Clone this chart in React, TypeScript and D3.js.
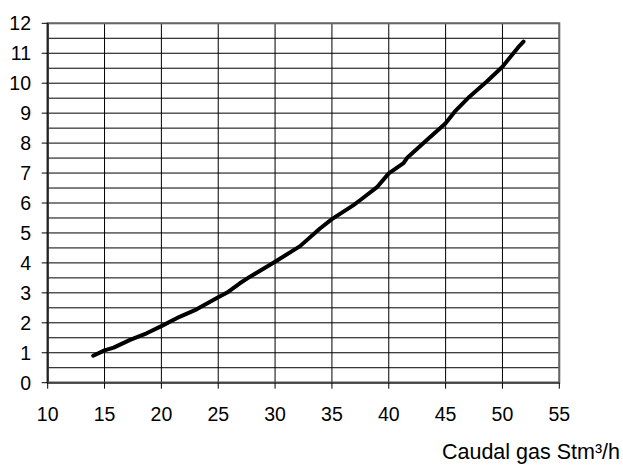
import React from "react";
import * as d3 from "d3";

const flowX: number[] = [14, 15, 15.8, 17.25, 18.7, 20, 21.6, 23.1, 25, 25.75, 26.9, 27.8, 30, 32.2, 33.95, 35, 36.9, 37.5, 39, 40, 41.3, 41.6, 43.35, 45, 45.8, 47.1, 48.6, 50, 51.5, 51.85];
const valueY: number[] = [0.9, 1.08, 1.17, 1.43, 1.65, 1.89, 2.2, 2.45, 2.85, 3.0, 3.32, 3.54, 4.04, 4.56, 5.15, 5.46, 5.93, 6.1, 6.54, 6.99, 7.33, 7.5, 8.1, 8.66, 9.05, 9.55, 10.05, 10.55, 11.25, 11.39];
const xTicks: number[] = [10, 15, 20, 25, 30, 35, 40, 45, 50, 55];
const yTicks: number[] = [0, 1, 2, 3, 4, 5, 6, 7, 8, 9, 10, 11, 12];
const yGrid: number[] = d3.range(0, 12.01, 0.5);
const xLabel = "Caudal gas Stm³/h";

export default function App() {
  const W = 623, H = 465;
  const L = 47.7, R = 559.3, T = 23.3, B = 382.7;
  const x = d3.scaleLinear().domain([10, 55]).range([L, R]);
  const y = d3.scaleLinear().domain([0, 12]).range([B, T]);
  const pts: [number, number][] = flowX.map((v, i) => [v, valueY[i]]);
  const line = d3.line<[number, number]>().x(d => x(d[0])).y(d => y(d[1])).curve(d3.curveLinear);
  const font = "'Liberation Sans', Arial, sans-serif";
  return (
    <svg width={W} height={H} style={{ position: "absolute", left: 0, top: 0, background: "#fff" }} fontFamily={font}>
      {yGrid.map(v => (
        <line key={"h" + v} x1={L} x2={R} y1={y(v)} y2={y(v)} stroke="#000" strokeWidth={1} />
      ))}
      {xTicks.map(v => (
        <line key={"v" + v} x1={x(v)} x2={x(v)} y1={T} y2={B} stroke="#000" strokeWidth={1} />
      ))}
      <rect x={L} y={T} width={R - L} height={B - T} fill="none" stroke="#666" strokeWidth={2} />
      <line x1={L} x2={L} y1={T} y2={B} stroke="#222" strokeWidth={2} />
      <line x1={L} x2={R} y1={B} y2={B} stroke="#444" strokeWidth={2} />
      {yTicks.map(v => (
        <g key={"yt" + v}>
          <line x1={L - 6} x2={L} y1={y(v)} y2={y(v)} stroke="#000" strokeWidth={1} />
          <text x={31} y={y(v)} dy="0.35em" textAnchor="end" fontSize={19.5} fill="#000">{v}</text>
        </g>
      ))}
      {xTicks.map(v => (
        <g key={"xt" + v}>
          <line x1={x(v)} x2={x(v)} y1={B} y2={B + 6} stroke="#000" strokeWidth={1} />
          <text x={x(v)} y={421} textAnchor="middle" fontSize={19.5} fill="#000">{v}</text>
        </g>
      ))}
      <path d={line(pts) || ""} fill="none" stroke="#000" strokeWidth={4} strokeLinecap="round" strokeLinejoin="round" />
      <text x={620} y={459} textAnchor="end" fontSize={21.5} fill="#000">{xLabel}</text>
    </svg>
  );
}
